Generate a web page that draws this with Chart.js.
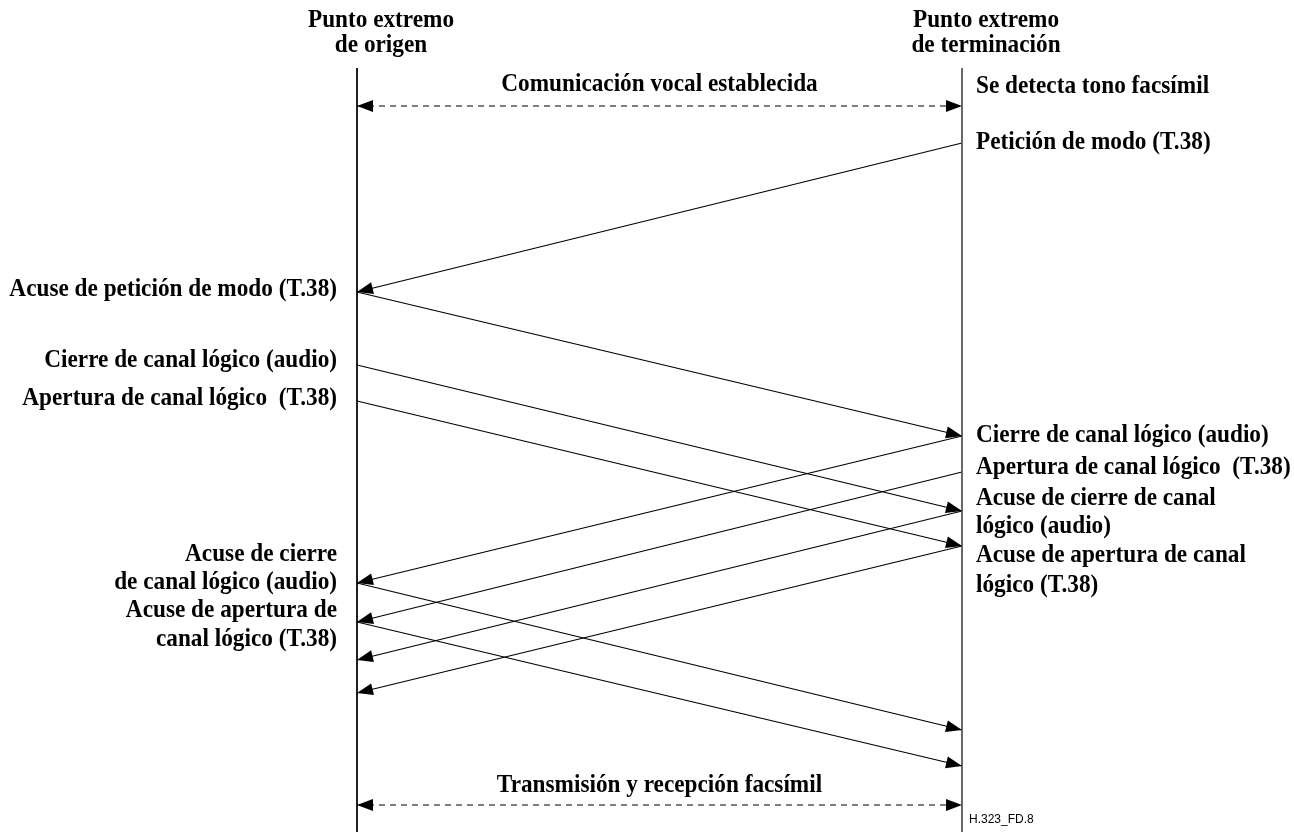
<!DOCTYPE html>
<html>
<head>
<meta charset="utf-8">
<script src="https://cdn.jsdelivr.net/npm/chart.js@4"></script>
<style>
  html, body { margin: 0; padding: 0; background: #fff; }
</style>
</head>
<body>
<canvas id="seq" width="1294" height="832"></canvas>
<script>
// lanes: 0 = origen, 1 = terminación
const headerLines = [['Punto extremo', 'de origen'], ['Punto extremo', 'de terminación']];

// messages (time axis goes down)
const msgFrom   = [0, 1, 0, 0, 0, 1, 1, 1, 1, 0, 0, 0];
const msgTo     = [1, 0, 1, 1, 1, 0, 0, 0, 0, 1, 1, 1];
const msgStart  = [106, 143, 292, 365, 401, 436, 472, 511, 546, 583, 622, 805];
const msgEnd    = [106, 292, 436, 511, 546, 583, 622, 660, 693, 730, 766, 805];
const msgDashed = [true, false, false, false, false, false, false, false, false, false, false, true];

const midNotes = ['Comunicación vocal establecida', 'Transmisión y recepción facsímil'];
const midNoteY = [85, 786];

const leftNotes = ['Acuse de petición de modo (T.38)', 'Cierre de canal lógico (audio)',
  'Apertura de canal lógico  (T.38)', 'Acuse de cierre', 'de canal lógico (audio)',
  'Acuse de apertura de', 'canal lógico (T.38)'];
const leftNoteY = [290, 361, 399, 555, 583, 611, 640];

const rightNotes = ['Se detecta tono facsímil', 'Petición de modo (T.38)', 'Cierre de canal lógico (audio)',
  'Apertura de canal lógico  (T.38)', 'Acuse de cierre de canal', 'lógico (audio)',
  'Acuse de apertura de canal', 'lógico (T.38)'];
const rightNoteY = [87, 143, 436, 468, 499, 527, 556, 586];

const lifelineTop = 68, lifelineBottom = 832;

const datasets = [];
[0, 1].forEach(l => {
  datasets.push({
    data: [{x: l, y: lifelineTop}, {x: l, y: lifelineBottom}],
    borderColor: l === 1 ? '#555' : '#000', borderWidth: 1
  });
});
msgFrom.forEach((f, i) => {
  datasets.push({
    data: [{x: f, y: msgStart[i]}, {x: msgTo[i], y: msgEnd[i]}],
    borderColor: '#000', borderWidth: 1.2,
    borderDash: msgDashed[i] ? [6, 5] : [],
    heads: msgDashed[i] ? [0, 1] : [1]
  });
});

function arrowHead(ctx, x0, y0, x1, y1) {
  const a = Math.atan2(y1 - y0, x1 - x0), len = 16, w = 6;
  ctx.beginPath();
  ctx.moveTo(x1, y1);
  ctx.lineTo(x1 - len * Math.cos(a) + w * Math.sin(a), y1 - len * Math.sin(a) - w * Math.cos(a));
  ctx.lineTo(x1 - len * Math.cos(a) - w * Math.sin(a), y1 - len * Math.sin(a) + w * Math.cos(a));
  ctx.closePath();
  ctx.fill();
}

// narrow-ish bold serif, like the original drawing
function label(ctx, t, x, y) {
  ctx.save();
  ctx.translate(x, y);
  ctx.scale(0.93, 1);
  ctx.fillText(t, 0, 0);
  ctx.restore();
}

const seqPlugin = {
  id: 'seq',
  afterDatasetsDraw(chart) {
    const ctx = chart.ctx, xs = chart.scales.x, ys = chart.scales.y;
    ctx.save();
    ctx.fillStyle = '#000';
    chart.data.datasets.forEach((ds, i) => {
      if (!ds.heads) return;
      const pts = chart.getDatasetMeta(i).data;
      ds.heads.forEach(h => arrowHead(ctx, pts[1 - h].x, pts[1 - h].y, pts[h].x, pts[h].y));
    });

    ctx.font = 'bold 25px "Liberation Serif"';
    ctx.textBaseline = 'middle';
    ctx.textAlign = 'center';
    headerLines.forEach((lines, l) => {
      const cx = xs.getPixelForValue(l) + 24;
      lines.forEach((t, k) => label(ctx, t, cx, 21 + k * 25));
    });
    const mid = xs.getPixelForValue(0.5);
    midNotes.forEach((t, i) => label(ctx, t, mid, ys.getPixelForValue(midNoteY[i])));
    ctx.textAlign = 'right';
    leftNotes.forEach((t, i) => label(ctx, t, xs.getPixelForValue(0) - 20, ys.getPixelForValue(leftNoteY[i])));
    ctx.textAlign = 'left';
    rightNotes.forEach((t, i) => label(ctx, t, xs.getPixelForValue(1) + 14, ys.getPixelForValue(rightNoteY[i])));

    ctx.font = '12px "Liberation Sans"';
    ctx.fillText('H.323_FD.8', xs.getPixelForValue(1) + 7, ys.getPixelForValue(820));
    ctx.restore();
  }
};

new Chart(document.getElementById('seq'), {
  type: 'scatter',
  data: { datasets: datasets },
  options: {
    responsive: false,
    animation: false,
    showLine: true,
    elements: { point: { radius: 0, hoverRadius: 0 } },
    layout: { padding: 0 },
    plugins: { legend: { display: false }, tooltip: { enabled: false } },
    scales: {
      x: { type: 'linear', display: false, min: -357 / 605, max: 1 + 332 / 605 },
      y: { type: 'linear', display: false, min: 0, max: 832, reverse: true }
    }
  },
  plugins: [seqPlugin]
});
</script>
</body>
</html>
